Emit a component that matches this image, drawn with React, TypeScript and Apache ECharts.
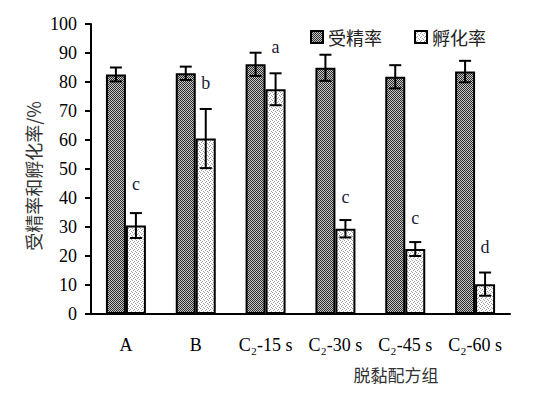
import React, { useEffect, useRef } from "react";
import * as echarts from "echarts";

const categories = ["A", "B", "C₂-15 s", "C₂-30 s", "C₂-45 s", "C₂-60 s"];
const fertRate = [82.6, 83.0, 86.1, 84.9, 81.8, 83.6];
const fertErr = [2.4, 2.3, 4.0, 4.5, 4.0, 3.7];
const hatchRate = [30.5, 60.5, 77.5, 29.4, 22.4, 10.3];
const hatchErr = [4.3, 10.2, 5.5, 3.0, 2.4, 4.0];
const sigLetters = ["c", "b", "a", "c", "c", "d"];
const sigLetterY = [45, 79.7, 92, 40.3, 33, 23];
const yTicks = [0, 10, 20, 30, 40, 50, 60, 70, 80, 90, 100];
const seriesNames = ["受精率", "孵化率"];

function makePattern(kind: "dark" | "light"): HTMLCanvasElement {
  const c = document.createElement("canvas");
  c.width = 4;
  c.height = 4;
  const ctx = c.getContext("2d")!;
  if (kind === "dark") {
    ctx.fillStyle = "#c8c8c8";
    ctx.fillRect(0, 0, 4, 4);
    ctx.fillStyle = "#2a2a2a";
    for (let y = 0; y < 4; y++)
      for (let x = 0; x < 4; x++) if ((x + y) % 2 === 0) ctx.fillRect(x, y, 1, 1);
  } else {
    ctx.fillStyle = "#ffffff";
    ctx.fillRect(0, 0, 4, 4);
    ctx.fillStyle = "#a0a0a0";
    ctx.fillRect(0, 0, 1, 1);
    ctx.fillRect(2, 1, 1, 1);
    ctx.fillRect(1, 2, 1, 1);
    ctx.fillRect(3, 3, 1, 1);
  }
  return c;
}

const serif = "'Liberation Serif', 'Times New Roman', serif";
const cjk = "'Noto Sans CJK SC', sans-serif";

export default function App() {
  const ref = useRef<HTMLDivElement>(null);
  useEffect(() => {
    if (!ref.current) return;
    const chart = echarts.init(ref.current, null, { renderer: "svg" });
    const darkPat = { image: makePattern("dark"), repeat: "repeat" } as any;
    const lightPat = { image: makePattern("light"), repeat: "repeat" } as any;

    const errSeries = (vals: number[], errs: number[], off: number) => ({
      type: "custom",
      silent: true,
      z: 10,
      data: vals.map((v, i) => [i, v, errs[i]]),
      renderItem: (params: any, api: any) => {
        const i = api.value(0);
        const v = api.value(1);
        const e = api.value(2);
        const top = api.coord([i, v + e]);
        const bot = api.coord([i, v - e]);
        const x = top[0] + off;
        const hw = 6;
        const st = { stroke: "#000", lineWidth: 2 };
        return {
          type: "group",
          children: [
            { type: "line", shape: { x1: x, y1: top[1], x2: x, y2: bot[1] }, style: st },
            { type: "line", shape: { x1: x - hw, y1: top[1], x2: x + hw, y2: top[1] }, style: st },
            { type: "line", shape: { x1: x - hw, y1: bot[1], x2: x + hw, y2: bot[1] }, style: st },
          ],
        };
      },
    });

    const option: any = {
      animation: false,
      grid: { left: 83, right: 38, top: 16, bottom: 90 },
      legend: {
        data: seriesNames,
        left: 297,
        top: 15,
        icon: "rect",
        itemWidth: 12,
        itemHeight: 12,
        itemGap: 32,
        textStyle: { fontFamily: cjk, fontSize: 18, color: "#222" },
      },
      xAxis: {
        type: "category",
        data: categories,
        axisLine: { lineStyle: { color: "#000", width: 2 } },
        axisTick: { inside: true, length: 6, lineStyle: { color: "#000", width: 2 } },
        axisLabel: {
          margin: 22,
          interval: 0,
          color: "#000",
          fontFamily: serif,
          fontSize: 18,
        },
      },
      yAxis: {
        type: "value",
        min: yTicks[0],
        max: yTicks[yTicks.length - 1],
        interval: 10,
        splitLine: { show: false },
        axisLine: { show: true, lineStyle: { color: "#000", width: 2 } },
        axisTick: { show: true, length: 6, lineStyle: { color: "#000", width: 2 } },
        axisLabel: { margin: 14, color: "#000", fontFamily: serif, fontSize: 18 },
      },
      graphic: [
        {
          type: "text",
          x: 25,
          y: 168,
          rotation: Math.PI / 2,
          style: {
            text: "受精率和孵化率/%",
            font: "18px " + cjk,
            fill: "#333",
            align: "center",
            verticalAlign: "middle",
          },
        },
        {
          type: "text",
          x: 388,
          y: 366,
          style: {
            text: "脱黏配方组",
            font: "17px " + cjk,
            fill: "#333",
            align: "center",
            verticalAlign: "middle",
          },
        },
      ],
      series: [
        {
          name: seriesNames[0],
          type: "bar",
          data: fertRate,
          barWidth: 20,
          barGap: "0%",
          itemStyle: { color: darkPat, borderColor: "#000", borderWidth: 2 },
        },
        {
          name: seriesNames[1],
          type: "bar",
          data: hatchRate,
          barWidth: 20,
          barGap: "0%",
          itemStyle: { color: lightPat, borderColor: "#000", borderWidth: 2 },
        },
        errSeries(fertRate, fertErr, -10),
        errSeries(hatchRate, hatchErr, 10),
        {
          type: "custom",
          silent: true,
          z: 11,
          data: sigLetters.map((l, i) => [i, sigLetterY[i]]),
          renderItem: (params: any, api: any) => {
            const p = api.coord([api.value(0), api.value(1)]);
            return {
              type: "text",
              x: p[0] + 10,
              y: p[1],
              style: {
                text: sigLetters[params.dataIndex],
                font: "18px " + serif,
                fill: "#1a1a3a",
                align: "center",
                verticalAlign: "middle",
              },
            };
          },
        },
      ],
    };
    chart.setOption(option);
    return () => chart.dispose();
  }, []);
  return <div ref={ref} style={{ width: 540, height: 396 }} />;
}
